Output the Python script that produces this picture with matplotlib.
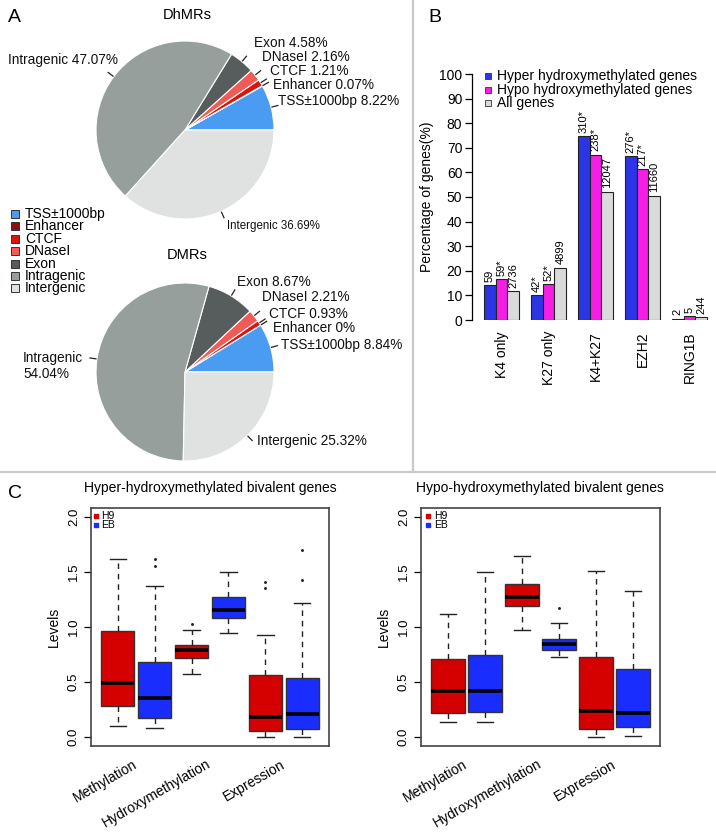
import matplotlib
matplotlib.use("Agg")
import matplotlib.pyplot as plt
import numpy as np

plt.rcParams['font.family'] = ['Liberation Sans', 'DejaVu Sans']

W, H = 716, 834
fig = plt.figure(figsize=(W / 100, H / 100), dpi=100)


def fr(x, y, w, h):
    return [x / W, 1 - (y + h) / H, w / W, h / H]


# ---------------- data ----------------
region_names = ['TSS±1000bp', 'Enhancer', 'CTCF', 'DNaseI', 'Exon', 'Intragenic', 'Intergenic']
region_colors = ['#4A9CF2', '#8C1212', '#D8160F', '#F25A55', '#565D5C', '#979F9D', '#DFE2E1']
dhmr_pct = [8.22, 0.07, 1.21, 2.16, 4.58, 47.07, 36.69]
dmr_pct = [8.84, 0.0, 0.93, 2.21, 8.67, 54.04, 25.32]

groups = ['K4 only', 'K27 only', 'K4+K27', 'EZH2', 'RING1B']
hyper_pct = [14.2, 10.1, 74.7, 66.6, 0.6]
hypo_pct = [16.6, 14.6, 67.2, 61.2, 1.6]
all_pct = [11.8, 21.3, 52.2, 50.6, 1.2]
hyper_n = ['59', '42*', '310*', '276*', '2']
hypo_n = ['59*', '52*', '238*', '217*', '5']
all_n = ['2736', '4899', '12047', '11660', '244']
bar_series = ['Hyper hydroxymethylated genes', 'Hypo hydroxymethylated genes', 'All genes']
bar_colors = ['#2B35E6', '#F51EE4', '#D8DBD9']

box_categories = ['Methylation', 'Hydroxymethylation', 'Expression']
box_cells = ['H9', 'EB']
cell_colors = ['#D50000', '#1A2DFF']
# order: Meth H9, Meth EB, Hydroxy H9, Hydroxy EB, Expr H9, Expr EB
hyper_whislo = [0.10, 0.08, 0.57, 0.95, 0.00, 0.00]
hyper_q1 = [0.28, 0.17, 0.72, 1.08, 0.06, 0.07]
hyper_med = [0.49, 0.36, 0.79, 1.15, 0.18, 0.21]
hyper_q3 = [0.96, 0.68, 0.84, 1.27, 0.56, 0.54]
hyper_whishi = [1.62, 1.37, 0.97, 1.50, 0.93, 1.22]
hyper_fliers = [[], [1.55, 1.62], [1.03], [], [1.35, 1.41], [1.43, 1.70]]

hypo_whislo = [0.14, 0.14, 0.97, 0.73, 0.00, 0.01]
hypo_q1 = [0.22, 0.23, 1.19, 0.79, 0.07, 0.09]
hypo_med = [0.42, 0.42, 1.27, 0.845, 0.235, 0.215]
hypo_q3 = [0.71, 0.745, 1.39, 0.895, 0.73, 0.62]
hypo_whishi = [1.12, 1.50, 1.64, 1.04, 1.51, 1.33]
hypo_fliers = [[], [], [], [1.17], [], []]

# ---------------- overlay (pixel coordinates) ----------------
ov = fig.add_axes([0, 0, 1, 1], zorder=5)
ov.set_xlim(0, W)
ov.set_ylim(H, 0)
ov.axis('off')
ov.patch.set_visible(False)

# dividers
ov.plot([413, 413], [0, 472], color='#C9C9C9', lw=1.6)
ov.plot([0, W], [472, 472], color='#C9C9C9', lw=1.6)

ov.text(8, 17, 'A', fontsize=14, va='center', ha='left')
ov.text(428, 17, 'B', fontsize=14, va='center', ha='left')
ov.text(8, 493, 'C', fontsize=14, va='center', ha='left')


# ---------------- Panel A: pies ----------------
def draw_pie(values, cx, cy, r, title, title_y, label_pos, label_sizes):
    ax = fig.add_axes(fr(cx - r, cy - r, 2 * r, 2 * r))
    ax.pie(values, colors=region_colors, startangle=0, counterclock=True,
           wedgeprops=dict(edgecolor='white', linewidth=0.8))
    ax.set_xlim(-1, 1)
    ax.set_ylim(-1, 1)
    ax.set_aspect('equal')
    ov.text(cx + 2, title_y, title, fontsize=10.5, ha='center', va='center')
    tot = float(np.sum(values))
    cum = np.cumsum([0] + list(values))
    for i, v in enumerate(values):
        mid = (cum[i] + v / 2) / tot * 2 * np.pi
        x0 = cx + (r + 1) * np.cos(mid)
        y0 = cy - (r + 1) * np.sin(mid)
        x1 = cx + (r + 7) * np.cos(mid)
        y1 = cy - (r + 7) * np.sin(mid)
        ov.plot([x0, x1], [y0, y1], color='#222222', lw=0.9)
        lx, ly, ha, lab_fmt = label_pos[i]
        ov.text(lx, ly, lab_fmt.format(region_names[i], f"{v:g}"),
                fontsize=label_sizes[i], ha=ha, va='center', color='#111111')


draw_pie(dhmr_pct, 185, 130, 89, 'DhMRs', 15,
         [(278, 101, 'left', '{} {}%'), (273, 85, 'left', '{} {}%'),
          (270, 71, 'left', '{} {}%'), (262, 57, 'left', '{} {}%'),
          (254, 43, 'left', '{} {}%'), (118, 60, 'right', '{} {}%'),
          (227, 226, 'left', '{} {}%')],
         [9.8, 9.8, 9.8, 9.8, 9.8, 9.8, 8.3])
draw_pie(dmr_pct, 185, 372, 89, 'DMRs', 255,
         [(281, 345, 'left', '{} {}%'), (273, 328, 'left', '{} {}%'),
          (269, 314, 'left', '{} {}%'), (262, 297, 'left', '{} {}%'),
          (237, 282, 'left', '{} {}%'), (23, 366, 'left', '{}\n{}%'),
          (257, 441, 'left', '{} {}%')],
         [9.8, 9.8, 9.8, 9.8, 9.8, 9.8, 9.8])

# legend A
for i, (name, col) in enumerate(zip(region_names, region_colors)):
    y = 214 + i * 12.4
    ov.plot([15], [y], marker='s', ms=5.5, mfc=col, mec='#333333', mew=0.7)
    ov.text(25, y, name, fontsize=10, ha='left', va='center')

# ---------------- Panel B: bars ----------------
axb = fig.add_axes(fr(472, 74, 241, 246))
x = np.arange(len(groups))
bw = 0.25
for k, (vals, labs, col) in enumerate(zip([hyper_pct, hypo_pct, all_pct],
                                          [hyper_n, hypo_n, all_n], bar_colors)):
    xs = x + (k - 1) * bw
    axb.bar(xs, vals, width=bw, color=col, edgecolor='#222222', linewidth=0.8)
    for xi, v, lab in zip(xs, vals, labs):
        axb.text(xi, v + 1.4, lab, rotation=90, ha='center', va='bottom', fontsize=8)
axb.set_xlim(-0.63, 4.5)
axb.set_ylim(0, 100)
for s in ['top', 'right', 'bottom']:
    axb.spines[s].set_visible(False)
axb.spines['left'].set_bounds(0, 100)
axb.spines['left'].set_linewidth(0.9)
axb.set_yticks(np.arange(0, 101, 10))
axb.tick_params(axis='y', length=5, width=0.9, labelsize=10, pad=2)
axb.set_xticks(x)
axb.set_xticklabels(groups, rotation=90, fontsize=10)
axb.tick_params(axis='x', length=0, pad=8)
axb.set_ylabel('Percentage of genes(%)', fontsize=10, labelpad=4)
# legend B
for i, (name, col) in enumerate(zip(bar_series, bar_colors)):
    y = 76 + i * 13.5
    ov.plot([488], [y], marker='s', ms=4, mfc=col, mec='#333333', mew=0.6)
    ov.text(497, y, name, fontsize=10, ha='left', va='center')


# ---------------- Panel C: boxplots ----------------
def draw_box(box, whislo, q1, med, q3, whishi, fliers, title, title_x):
    ax = fig.add_axes(fr(*box))
    stats = []
    for i in range(len(med)):
        stats.append(dict(whislo=whislo[i], q1=q1[i], med=med[i], q3=q3[i],
                          whishi=whishi[i], fliers=fliers[i]))
    pos = np.arange(1, len(stats) + 1)
    bp = ax.bxp(stats, positions=pos, widths=0.9, patch_artist=True,
                showfliers=True,
                boxprops=dict(edgecolor='#333333', linewidth=1.0),
                medianprops=dict(color='black', linewidth=2.6),
                whiskerprops=dict(color='#222222', linewidth=1.0, linestyle=(0, (4, 3.5))),
                capprops=dict(color='#222222', linewidth=1.0),
                flierprops=dict(marker='o', markersize=1.1, markerfacecolor='#222222',
                                markeredgecolor='#222222'),
                capwidths=0.45)
    for i, patch in enumerate(bp['boxes']):
        patch.set_facecolor(cell_colors[i % 2])
    ax.set_xlim(0.27, 6.73)
    ax.set_ylim(-0.08, 2.08)
    ax.set_yticks([0, 0.5, 1.0, 1.5, 2.0])
    ax.set_yticklabels(['0.0', '0.5', '1.0', '1.5', '2.0'])
    ax.tick_params(axis='y', length=5, width=0.9, labelsize=9.5, labelrotation=90, pad=3)
    for t in ax.get_yticklabels():
        t.set_va('center')
    ax.set_xticks([])
    for s in ax.spines.values():
        s.set_linewidth(1.2)
        s.set_color('#444444')
    ax.set_ylabel('Levels', fontsize=10, labelpad=5)
    for j, cat in enumerate(box_categories):
        ax.text(1.5 + 2 * j, -0.235, cat, rotation=30, rotation_mode='anchor',
                ha='right', va='center', fontsize=10, clip_on=False)
    ov.text(title_x, 488, title, fontsize=10, ha='center', va='center')
    return ax


draw_box((91, 508, 238, 238), hyper_whislo, hyper_q1, hyper_med, hyper_q3, hyper_whishi,
         hyper_fliers, 'Hyper-hydroxymethylated bivalent genes', 210)
draw_box((421, 508, 239, 238), hypo_whislo, hypo_q1, hypo_med, hypo_q3, hypo_whishi,
         hypo_fliers, 'Hypo-hydroxymethylated bivalent genes', 540)

for mx, tx in [(96, 101), (428, 434)]:
    for i, (name, col) in enumerate(zip(box_cells, cell_colors)):
        y = 516 + i * 9
        ov.plot([mx], [y], marker='s', ms=2.6, mfc=col, mec=col)
        ov.text(tx, y, name, fontsize=7.5, ha='left', va='center')

fig.savefig('out.png', dpi=100)
